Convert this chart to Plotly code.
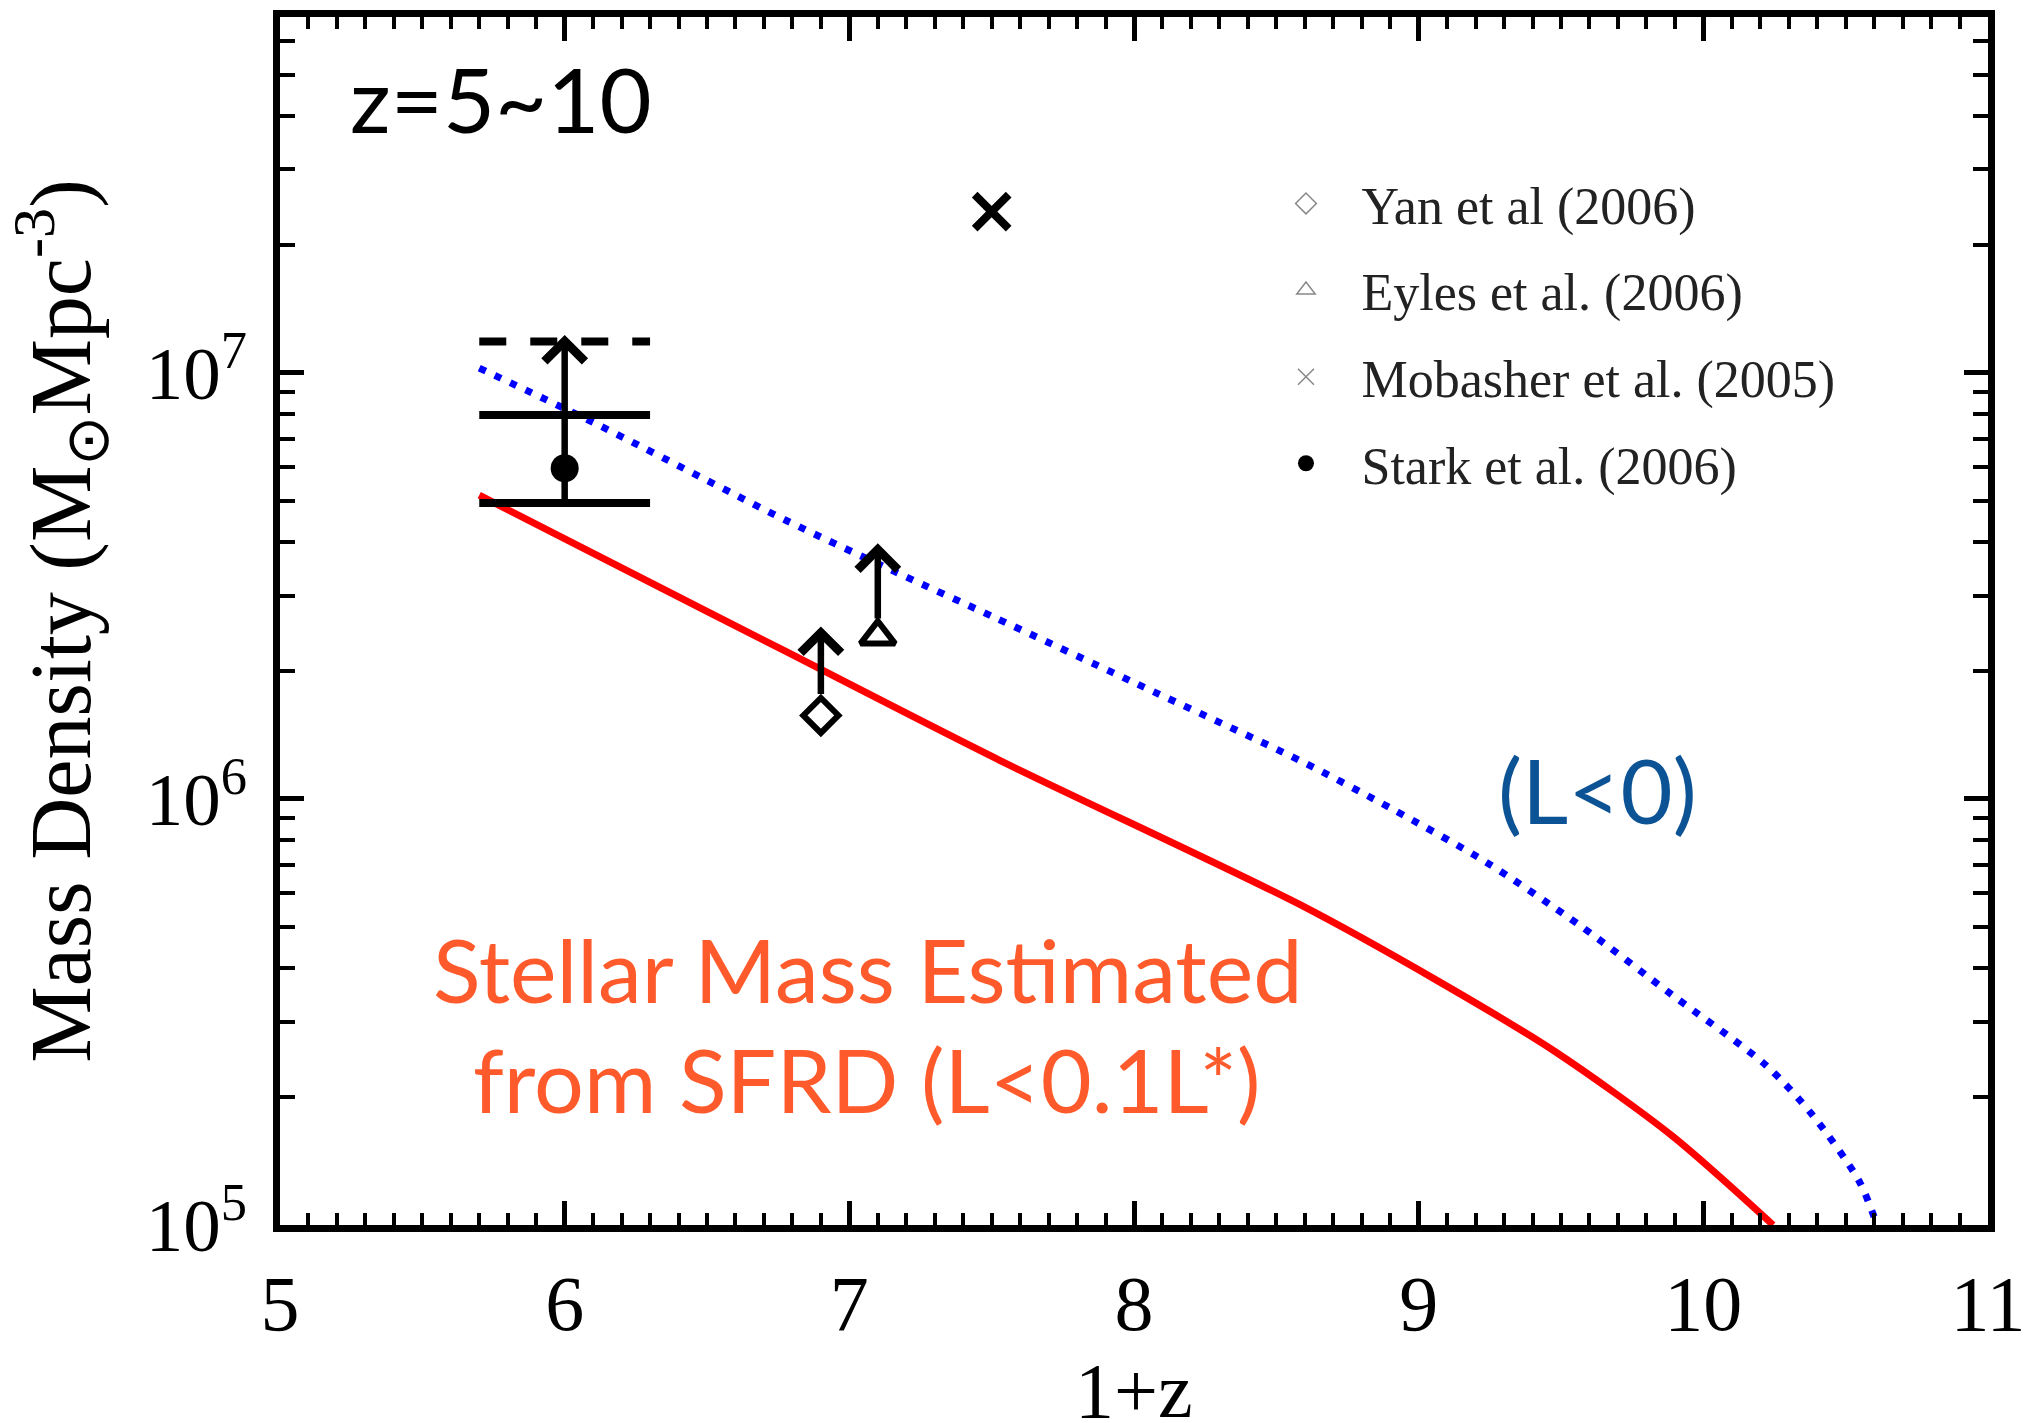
import math
import plotly.graph_objects as go

# ---------------- data ----------------
# Stellar mass density estimated from SFRD (L < 0.1 L*) -- red solid curve
sfrd_z1 = [5.70, 6.24, 6.77, 7.53, 8.58, 9.07, 9.48, 9.89, 10.245]
sfrd_rho = [5.16e6, 3.38e6, 2.23e6, 1.23e6, 5.66e5, 3.73e5, 2.55e5, 1.62e5, 1.0e5]

# Same estimate integrated to L < 0 -- blue dotted curve
l0_z1 = [5.70, 6.105, 6.773, 7.174, 7.508, 8.0, 8.58, 8.908, 9.236, 9.564,
         9.892, 10.22, 10.384, 10.548, 10.61]
l0_rho = [1.026e7, 7.62e6, 4.52e6, 3.38e6, 2.67e6, 1.875e6, 1.233e6, 9.46e5,
          7.11e5, 5.06e5, 3.46e5, 2.37e5, 1.81e5, 1.265e5, 1.0e5]

# Observational points
yan_z1, yan_rho, yan_limit = [6.9], [1.57e6], [2.54e6]
eyles_z1, eyles_rho, eyles_limit = [7.1], [2.41e6], [3.98e6]
mob_z1, mob_rho = [7.5], [2.39e7]
stark_z1, stark_rho, stark_limit = [6.0], [5.97e6], [1.227e7]
stark_bin = [5.7, 6.3]
stark_band = [4.95e6, 7.96e6]
stark_dashed = [1.185e7]

legend_names = ["Yan et al (2006)", "Eyles et al. (2006)",
                "Mobasher et al. (2005)", "Stark et al. (2006)"]

x_ticks = [5, 6, 7, 8, 9, 10, 11]

# ---------------- figure ----------------
SERIF = "Liberation Serif"
SANS = "Lato"
fig = go.Figure()

# curves
fig.add_trace(go.Scatter(x=sfrd_z1, y=sfrd_rho, mode="lines",
                         line=dict(color="#ff0000", width=7, shape="spline", smoothing=0.8),
                         showlegend=False))
fig.add_trace(go.Scatter(x=l0_z1, y=l0_rho, mode="lines",
                         line=dict(color="#0000ff", width=7, dash="7px,10px",
                                   shape="spline", smoothing=0.8),
                         showlegend=False))

# Stark et al. bin bars
for v in stark_band:
    fig.add_trace(go.Scatter(x=stark_bin, y=[v, v], mode="lines",
                             line=dict(color="black", width=8), showlegend=False))
fig.add_trace(go.Scatter(x=stark_bin, y=[stark_dashed[0]] * 2, mode="lines",
                         line=dict(color="black", width=8, dash="27px,24px"),
                         showlegend=False))

# markers
fig.add_trace(go.Scatter(x=stark_z1, y=stark_rho, mode="markers",
                         marker=dict(symbol="circle", size=28, color="black"),
                         showlegend=False))
fig.add_trace(go.Scatter(x=yan_z1, y=yan_rho, mode="markers",
                         marker=dict(symbol="diamond-open", size=27, color="black",
                                     line=dict(width=6, color="black")),
                         showlegend=False))
fig.add_trace(go.Scatter(x=eyles_z1, y=eyles_rho, mode="markers",
                         marker=dict(symbol="triangle-up-open", size=30, color="black",
                                     line=dict(width=6, color="black")),
                         showlegend=False))
fig.add_trace(go.Scatter(x=mob_z1, y=mob_rho, mode="markers",
                         marker=dict(symbol="x-thin-open", size=34, color="black",
                                     line=dict(width=8, color="black")),
                         showlegend=False))

# legend-only entries (thin grey symbols like the original key)
leg_styles = [
    dict(symbol="diamond-open", size=20, color="#888", line=dict(width=1.5, color="#888")),
    dict(symbol="triangle-up-open", size=20, color="#888", line=dict(width=1.5, color="#888")),
    dict(symbol="x-thin-open", size=20, color="#888", line=dict(width=1.5, color="#888")),
    dict(symbol="circle", size=20, color="black"),
]
for i, (name, st) in enumerate(zip(legend_names, leg_styles)):
    fig.add_trace(go.Scatter(x=[None], y=[None], mode="markers", marker=st,
                             name=name, legendgroup=f"g{i}", showlegend=True))

# lower-limit arrows (chevron heads)
def limit_arrow(x, base, tip, start_off):
    fig.add_annotation(x=x, y=math.log10(tip), ax=x, ay=math.log10(base),
                       xref="x", yref="y", axref="x", ayref="y", text="",
                       showarrow=True, arrowhead=4, arrowsize=1.2, arrowwidth=6.5,
                       arrowcolor="black", standoff=0, startstandoff=start_off)

limit_arrow(stark_z1[0], stark_band[0], stark_limit[0], 0)
limit_arrow(yan_z1[0], yan_rho[0], yan_limit[0], 20)
limit_arrow(eyles_z1[0], eyles_rho[0], eyles_limit[0], 16)

# text labels
fig.add_annotation(text="z=5~10", xref="paper", yref="paper", x=0.0398, y=0.933,
                   xanchor="left", yanchor="middle", showarrow=False,
                   font=dict(family=SANS, size=90, color="black"))
fig.add_annotation(text="(L<0)", xref="paper", yref="paper", x=0.7711, y=0.361,
                   xanchor="center", yanchor="middle", showarrow=False,
                   font=dict(family=SANS, size=90, color="#0B5394"))
fig.add_annotation(text="Stellar Mass Estimated", xref="paper", yref="paper",
                   x=0.3437, y=0.212, xanchor="center", yanchor="middle", showarrow=False,
                   font=dict(family=SANS, size=88, color="#FF5A2B"))
fig.add_annotation(text="from SFRD (L<0.1L*)", xref="paper", yref="paper",
                   x=0.3437, y=0.121, xanchor="center", yanchor="middle", showarrow=False,
                   font=dict(family=SANS, size=88, color="#FF5A2B"))
# x-axis title (placed explicitly below the tick labels)
fig.add_annotation(text="1+z", xref="paper", yref="paper", x=0.5, y=-0.137,
                   xanchor="center", yanchor="middle", showarrow=False,
                   font=dict(family=SERIF, size=78, color="black"))

axis_common = dict(showline=True, linewidth=7, linecolor="black", mirror="ticks",
                   ticks="inside", tickcolor="black", tickwidth=5, ticklen=24,
                   showgrid=False, zeroline=False, automargin=False)

fig.update_xaxes(range=[5, 11], tickvals=x_ticks, ticktext=[str(t) for t in x_ticks],
                 ticklabelstandoff=4,
                 tickfont=dict(family=SERIF, size=78, color="black"),
                 minor=dict(ticks="inside", ticklen=12, tickwidth=4, tickcolor="black",
                            dtick=0.1, showgrid=False),
                 **axis_common)
fig.update_yaxes(type="log", range=[5.0, 7.835], dtick=1, exponentformat="power",
                 ticklabelstandoff=14,
                 tickfont=dict(family=SERIF, size=60, color="black"),
                 minor=dict(ticks="inside", ticklen=15, tickwidth=4, tickcolor="black",
                            dtick="D1", showgrid=False),
                 title=dict(text="Mass Density (M<sub>\u2299</sub>Mpc<sup>-3</sup>)",
                            font=dict(family=SERIF, size=86, color="black"), standoff=30),
                 **axis_common)

fig.update_layout(
    width=2036, height=1423,
    margin=dict(l=280, r=48, t=17, b=198, autoexpand=False),
    paper_bgcolor="white", plot_bgcolor="white",
    legend=dict(x=0.5682, y=0.879, xanchor="left", yanchor="top",
                font=dict(family=SERIF, size=52, color="#222"),
                bgcolor="rgba(0,0,0,0)", tracegroupgap=16, itemwidth=101,
                traceorder="grouped"),
)

fig.write_html("out.html")
